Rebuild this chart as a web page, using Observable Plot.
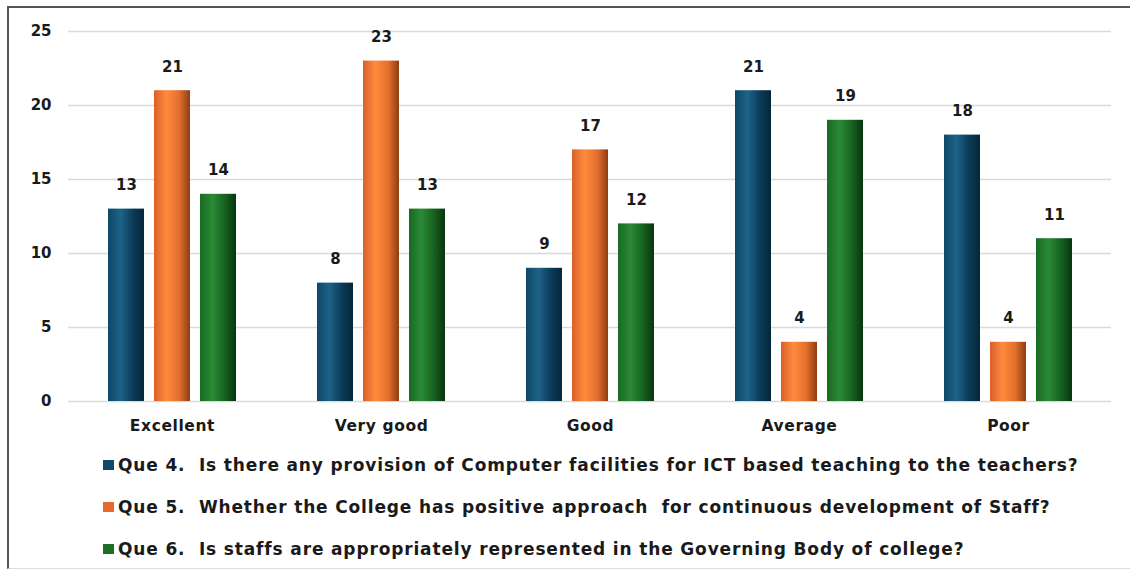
<!DOCTYPE html>
<html>
<head>
<meta charset="utf-8">
<script src="https://cdn.jsdelivr.net/npm/d3@7"></script>
<script src="https://cdn.jsdelivr.net/npm/@observablehq/plot@0.6"></script>
<style>
  html, body { margin: 0; padding: 0; background: #fff; }
  #wrap { position: relative; width: 1130px; height: 575px; overflow: hidden; }
  #frame { position: absolute; left: 7px; top: 6px; width: 1130px; height: 563px;
           border-left: 2px solid #555; border-top: 2px solid #555; border-bottom: 1px solid #ddd; box-sizing: border-box; }
  #chart { position: absolute; left: 0; top: 0; }
  #legend { position: absolute; left: 103px; top: 444px; font-family: "DejaVu Sans", sans-serif; font-weight: 700;
            font-size: 17px; letter-spacing: 0.85px; color: #1a1a1a; }
  .row { display: flex; align-items: center; height: 42px; }
  .sw { width: 11px; height: 10px; margin-right: 4px; }
</style>
</head>
<body>
<div id="wrap">
  <div id="frame"></div>
  <div id="chart"></div>
  <div id="legend"></div>
</div>
<script>
const categories = ["Excellent", "Very good", "Good", "Average", "Poor"];
const seriesNames = [
  "Que 4.  Is there any provision of Computer facilities for ICT based teaching to the teachers?",
  "Que 5.  Whether the College has positive approach  for continuous development of Staff?",
  "Que 6.  Is staffs are appropriately represented in the Governing Body of college?"
];
const que4 = [13, 8, 9, 21, 18];
const que5 = [21, 23, 17, 4, 4];
const que6 = [14, 13, 12, 19, 11];
const yTicks = [0, 5, 10, 15, 20, 25];

const seriesValues = [que4, que5, que6];
const gradIds = ["gBlue", "gOrange", "gGreen"];
const swatch = ["#0f4a6a", "#e8692b", "#1b6e26"];
const offsets = [-46, 0, 46];

const marks = [Plot.ruleY(yTicks, {stroke: "#d9d9d9", strokeWidth: 1.5})];
seriesValues.forEach((vals, s) => {
  marks.push(Plot.barY(categories, {x: d => d, y: (d, i) => vals[i], dx: offsets[s], fill: `url(#${gradIds[s]})`}));
  marks.push(Plot.text(categories, {x: d => d, y: (d, i) => vals[i], text: (d, i) => String(vals[i]), dx: offsets[s], dy: -24,
    lineAnchor: "middle", fill: "#1a1a1a", fontSize: 15, fontWeight: "bold", fontFamily: "DejaVu Sans"}));
});

const chart = Plot.plot({
  width: 1130,
  height: 440,
  marginTop: 31,
  marginBottom: 39,
  marginLeft: 68,
  marginRight: 19,
  style: {fontFamily: "DejaVu Sans", fontSize: "15px", fontWeight: "bold", color: "#1a1a1a", background: "transparent"},
  x: {domain: categories, paddingInner: 0.83, paddingOuter: 0.41, label: null, tickSize: 0, tickPadding: 18},
  y: {domain: [0, 25], ticks: yTicks, label: null, tickSize: 0, tickPadding: 17},
  marks
});

// cylinder-like gradients
const defs = d3.select(chart).insert("defs", ":first-child");
const gstops = [
  ["#0d4866", "#1d6389", "#0b3b56", "#05263a"],
  ["#d9602a", "#ff8a3e", "#e36f2c", "#8f3d12"],
  ["#186a23", "#2a8a36", "#16611f", "#083510"]
];
gradIds.forEach((id, s) => {
  const g = defs.append("linearGradient").attr("id", id).attr("x1", "0").attr("x2", "1").attr("y1", "0").attr("y2", "0");
  [0, 0.35, 0.7, 1].forEach((o, k) => g.append("stop").attr("offset", o).attr("stop-color", gstops[s][k]));
});
d3.select(chart).selectAll("g[aria-label='x-axis tick label']")
  .attr("font-size", 15.5).style("letter-spacing", "0.6px");
document.getElementById("chart").appendChild(chart);

const legend = document.getElementById("legend");
seriesNames.forEach((name, s) => {
  const row = document.createElement("div");
  row.className = "row";
  const sw = document.createElement("div");
  sw.className = "sw";
  sw.style.background = swatch[s];
  const t = document.createElement("span");
  t.style.whiteSpace = "pre";
  t.textContent = name;
  row.appendChild(sw);
  row.appendChild(t);
  legend.appendChild(row);
});
</script>
</body>
</html>
